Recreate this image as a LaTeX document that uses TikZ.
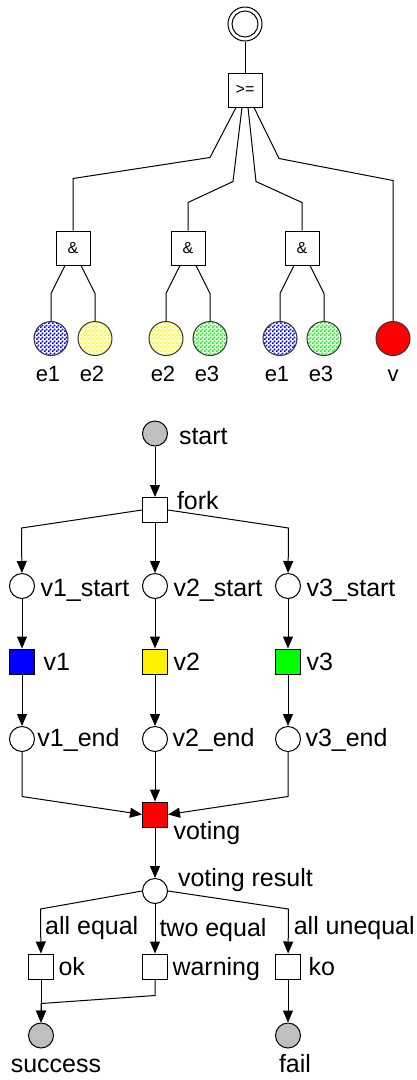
\documentclass[tikz,border=0pt]{standalone}
\usepackage{fontspec}
\setmainfont{Liberation Sans}
\usetikzlibrary{positioning, arrows.meta, patterns}
\pgfdeclarepatternformonly{checks}{\pgfpointorigin}{\pgfqpoint{4pt}{4pt}}{\pgfqpoint{4pt}{4pt}}{%
  \pgfpathrectangle{\pgfpointorigin}{\pgfqpoint{2pt}{2pt}}%
  \pgfpathrectangle{\pgfqpoint{2pt}{2pt}}{\pgfqpoint{2pt}{2pt}}%
  \pgfusepath{fill}}
\tikzset{>={Triangle[length=12pt, width=10pt]}, on grid,
  place/.style={circle, draw, minimum size=25pt, inner sep=0pt, fill=white},
  trans/.style={rectangle, draw, minimum size=25pt, inner sep=0pt, fill=white},
  gate/.style={rectangle, draw, minimum size=34pt, inner sep=0pt, font=\fontsize{16}{16}\selectfont},
  basic/.style={circle, draw=black!80, minimum size=34pt, inner sep=0pt},
  checked/.style={basic, preaction={fill=white}, pattern=checks, pattern color=#1},
  txt/.style={inner sep=0pt, anchor=base west},
  evlabel/.style={txt, anchor=base, xshift=-3pt, yshift=-25.5pt, font=\fontsize{22}{22}\selectfont},
  arclabel/.style={txt, midway, xshift=4pt, yshift=-3.5pt}
}

\begin{document}
\begin{tikzpicture}[x=1pt, y=-1pt, line width=1pt, font=\fontsize{25}{29}\selectfont]
  \useasboundingbox (0,0) rectangle (416,1080);

  % fault tree
  \node[circle, draw, minimum size=34pt, inner sep=0pt] (top) at (245,24) {};
  \draw (top) circle[radius=13pt];
  \node[gate, below=66pt of top] (atleast) {>=};
  \node[gate] (and-1) at (73,248) {\&};
  \node[gate, right=115pt of and-1] (and-2) {\&};
  \node[gate, right=114pt of and-2] (and-3) {\&};
  \node[checked=blue, below left=90.5pt and 22pt of and-1, label={[evlabel]below:e1}] (e1-a) {};
  \node[checked=yellow, below right=90.5pt and 22pt of and-1, label={[evlabel]below:e2}] (e2-a) {};
  \node[checked=yellow, below left=90.5pt and 22pt of and-2, label={[evlabel]below:e2}] (e2-b) {};
  \node[checked=green, below right=90.5pt and 22pt of and-2, label={[evlabel]below:e3}] (e3-b) {};
  \node[checked=blue, below left=90.5pt and 22pt of and-3, label={[evlabel]below:e1}] (e1-c) {};
  \node[checked=green, below right=90.5pt and 22pt of and-3, label={[evlabel]below:e3}] (e3-c) {};
  \node[basic, fill=red, right=69pt of e3-c, label={[evlabel, xshift=3pt]below:v}] (v-event) {};

  \draw (top) -- (atleast);
  \draw ([xshift=-9pt]atleast.south) -- ++(-26,50) -- ++(-137,21) -- (and-1.north);
  \draw ([xshift=-3pt]atleast.south) -- ++(-9,74) -- ++(-45,21) -- (and-2.north);
  \draw ([xshift=3pt]atleast.south) -- ++(8,74) -- ++(46,21) -- (and-3.north);
  \draw ([xshift=9pt]atleast.south) -- ++(25,51) -- ++(114,22) -- (v-event.north);
  \foreach \g/\l/\r in {and-1/e1-a/e2-a, and-2/e2-b/e3-b, and-3/e1-c/e3-c} {
    \draw ([xshift=-8pt]\g.south) -- ++(-14,28) -- (\l.north);
    \draw ([xshift=8pt]\g.south) -- ++(14,28) -- (\r.north);
  }

  % petri net
  \node[place, fill=lightgray, label={[txt, xshift=10.5pt, yshift=-10.5pt]right:start}] (start) at (155,433.5) {};
  \node[trans, below=76.5pt of start, label={[txt, xshift=8.5pt, yshift=0.5pt]right:fork}] (fork) {};
  \node[place, below=76pt of fork, label={[txt, xshift=5pt, yshift=-10.7pt]right:v2\_start}] (v2-start) {};
  \node[place, left=133pt of v2-start, label={[txt, xshift=5pt, yshift=-10.7pt]right:v1\_start}] (v1-start) {};
  \node[place, right=133pt of v2-start, label={[txt, xshift=5pt, yshift=-10.7pt]right:v3\_start}] (v3-start) {};
  \node[trans, fill=blue, below=75.5pt of v1-start, label={[txt, xshift=8pt, yshift=-8.5pt]right:v1}] (v1) {};
  \node[trans, fill=yellow, below=75.5pt of v2-start, label={[txt, xshift=5pt, yshift=-8.5pt]right:v2}] (v2) {};
  \node[trans, fill=green, below=75.5pt of v3-start, label={[txt, xshift=5pt, yshift=-8.5pt]right:v3}] (v3) {};
  \node[place, below=77.5pt of v1, label={[txt, xshift=2pt, yshift=-7.7pt]right:v1\_end}] (v1-end) {};
  \node[place, below=77.5pt of v2, label={[txt, xshift=4pt, yshift=-7.7pt]right:v2\_end}] (v2-end) {};
  \node[place, below=77.5pt of v3, label={[txt, xshift=4pt, yshift=-7.7pt]right:v3\_end}] (v3-end) {};
  \node[trans, fill=red, below=75.5pt of v2-end, label={[txt, xshift=5pt, yshift=-24.5pt]right:voting}] (voting) {};
  \node[place, below=76.5pt of voting, label={[txt, xshift=9.5pt, yshift=4.3pt]right:voting result}] (voting-result) {};
  \node[trans, below=75.5pt of voting-result, label={[txt, xshift=4pt, yshift=-8.5pt]right:warning}] (warning) {};
  \node[trans, left=114pt of warning, label={[txt, xshift=4pt, yshift=-8.5pt]right:ok}] (ok) {};
  \node[trans, right=133pt of warning, label={[txt, xshift=7pt, yshift=-8.5pt]right:ko}] (ko) {};
  \node[place, fill=lightgray, below=69pt of ok, label={[txt, anchor=base, xshift=15pt, yshift=-23.7pt]below:success}] (success) {};
  \node[place, fill=lightgray, below=69pt of ko, label={[txt, anchor=base, xshift=7pt, yshift=-24pt]below:fail}] (fail) {};

  \draw[->] (start) -- (fork);
  \draw[->] (fork.west) -- ++(-120.5,18) -- (v1-start);
  \draw[->] (fork) -- (v2-start);
  \draw[->] (fork.east) -- ++(120.5,18) -- (v3-start);
  \foreach \i in {1,2,3} {
    \draw[->] (v\i-start) -- (v\i);
    \draw[->] (v\i) -- (v\i-end);
  }
  \draw[->] (v1-end.south) -- ++(0,44.5) -- (voting.west);
  \draw[->] (v2-end) -- (voting);
  \draw[->] (v3-end.south) -- ++(0,44.5) -- (voting.east);
  \draw[->] (voting) -- (voting-result);
  \draw[->] (voting-result.west) -- ++(-101.5,18) -- node[arclabel]{all equal} (ok);
  \draw[->] (voting-result) -- node[arclabel, yshift=-4.5pt]{two equal} (warning);
  \draw[->] (voting-result.east) -- ++(120.5,18) -- node[arclabel, xshift=1pt]{all unequal} (ko);
  \draw[->] (ok) -- (success);
  \draw[->] (warning.south) -- ++(0,16) -- ++(-114,8) -- (success);
  \draw[->] (ko) -- (fail);
\end{tikzpicture}
\end{document}
